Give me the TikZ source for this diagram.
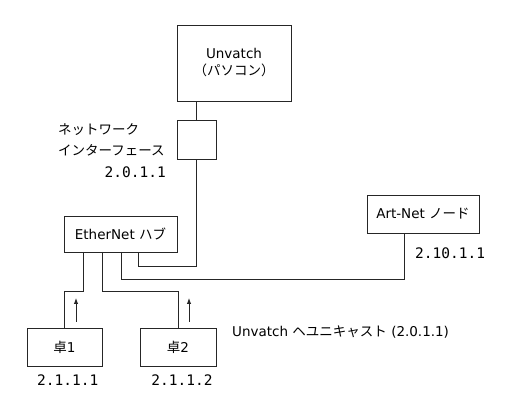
\documentclass[tikz,border=0pt]{standalone}
\usepackage{fontspec}
\setmainfont{Noto Sans CJK JP}
\newfontfamily\lat{DejaVu Sans}
\newfontfamily\ipfont{DejaVu Sans Mono}
\newcommand{\La}[1]{{\lat\fontsize{13.5}{17}\selectfont #1}}
\usetikzlibrary{arrows.meta}
\begin{document}
\begin{tikzpicture}[x=1pt,y=-1pt,
  box/.style={draw=black!85,line width=0.9pt,inner sep=0pt,align=center,font=\fontsize{13.5}{17}\selectfont},
  wire/.style={draw=black!85,line width=0.9pt},
  lbl/.style={inner sep=0pt,font=\fontsize{13.5}{17}\selectfont},
  ip/.style={inner sep=0pt,font=\ipfont\fontsize{14.5}{17}\selectfont},
  up/.style={wire,-{Latex[length=6pt,width=4.5pt]}}]
\useasboundingbox (0,0) rectangle (519,419);
\node[box,minimum width=114pt,minimum height=76pt] (pc) at (234,63) {\La{Unvatch}\\（パソコン）};
\node[box,minimum width=39pt,minimum height=39pt] (nic) at (196.5,139.5) {};
\node[box,minimum width=113pt,minimum height=36pt] (hub) at (120.5,234) {\La{EtherNet }ハブ};
\node[box,minimum width=112pt,minimum height=38pt] (art) at (423,214) {\La{Art-Net }ノード};
\node[box,minimum width=75pt,minimum height=38pt] (t1) at (64.5,347) {卓\La{1}};
\node[box,minimum width=76pt,minimum height=38pt] (t2) at (178,347) {卓\La{2}};
\node[lbl,anchor=west] (l1) at (58,130) {ネットワーク};
\node[lbl,anchor=west] (l2) at (58,150) {インターフェース};
\node[ip,anchor=east] (ipnic) at (166,172) {2.0.1.1};
\node[ip] (ip1) at (67.7,380) {2.1.1.1};
\node[ip] (ip2) at (182,380) {2.1.1.2};
\node[ip,anchor=west] (ipart) at (415,253) {2.10.1.1};
\node[lbl,anchor=west] (uni) at (232,332) {\La{Unvatch }ヘユニキャスト\La{ (2.0.1.1)}};
% connectors
\coordinate (h1) at (83,252);
\coordinate (h2) at (102,252);
\coordinate (h3) at (121,252);
\coordinate (h4) at (138,252);
\coordinate (a1) at (404,233);
\draw[wire] (pc.south -| nic.north) -- (nic.north);
\draw[wire] (nic.south) |- (138,266) -- (h4);
\draw[wire] (h3) |- (a1 |- 0,279) -- (a1);
\draw[wire] (h1) |- (64.5,291) -- (t1.north);
\draw[wire] (h2) |- (178,291) -- (t2.north);
\coordinate (u1s) at (76,322);
\coordinate (u1e) at (76,298);
\coordinate (u2s) at (189,322);
\coordinate (u2e) at (189,298);
\draw[up] (u1s) -- (u1e);
\draw[up] (u2s) -- (u2e);
\end{tikzpicture}
\end{document}
